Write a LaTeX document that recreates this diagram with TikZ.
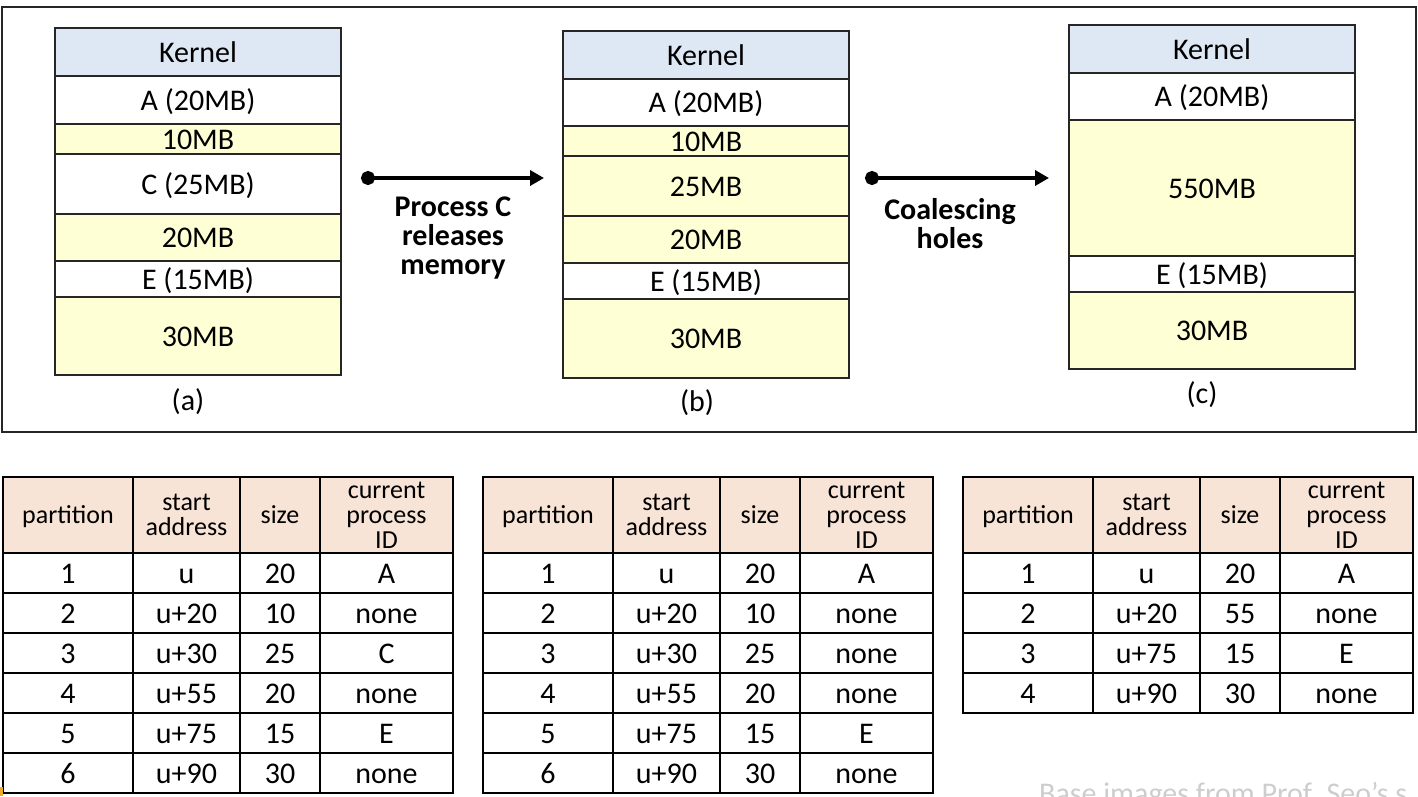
\documentclass[tikz,border=0pt]{standalone}
\usepackage{fontspec}
\setmainfont{Carlito}
\usetikzlibrary{positioning,arrows.meta}
\definecolor{kernblue}{RGB}{222,232,245}
\definecolor{holeyel}{RGB}{255,255,214}
\definecolor{headpeach}{RGB}{247,228,214}
\definecolor{edgegray}{RGB}{38,38,38}
\definecolor{creditgray}{RGB}{205,205,205}
\definecolor{slidemark}{RGB}{237,170,40}

\tikzset{
  blk/.style={draw=edgegray, line width=2pt, minimum width=286pt, inner sep=0pt, outer sep=0pt, text height=21pt, text depth=1pt, font=\fontsize{30}{30}\selectfont},
  kern/.style={blk, fill=kernblue, minimum height=48pt},
  proc/.style={blk, fill=white},
  hole/.style={blk, fill=holeyel},
  sublabel/.style={font=\fontsize{30}{30}\selectfont, inner sep=0pt},
  note/.style={font=\fontsize{30}{29}\selectfont\bfseries, align=center, inner sep=0pt},
  flow/.style={line width=4pt, {Circle[length=14pt]}-{Triangle[length=14pt,width=15pt]}},
  cell/.style={draw, line width=2pt, inner sep=0pt, outer sep=0pt, minimum height=40pt, text height=21pt, text depth=1pt, font=\fontsize{30}{30}\selectfont},
  head/.style={draw, line width=2pt, inner sep=0pt, outer sep=0pt, fill=headpeach, minimum height=76pt, align=center, font=\fontsize{26}{25}\selectfont},
  headone/.style={head, text height=18pt, text depth=2pt},
  c1/.style={minimum width=130pt},
  c2/.style={minimum width=107pt},
  c3/.style={minimum width=80pt},
  c4/.style={minimum width=133pt}
}

\begin{document}
\begin{tikzpicture}[x=1pt,y=-1pt]
    \useasboundingbox (0,0) rectangle (1418,796);
    \draw [edgegray, line width=1.5pt] (2,7) rectangle (1416,432);

    % memory (a)
    \node[kern] (a0) at (198,52) {Kernel};
    \node[proc, minimum height=48pt, below=0pt of a0] (a1) {A (20MB)};
    \node[hole, minimum height=30pt, below=0pt of a1] (a2) {10MB};
    \node[proc, minimum height=60pt, below=0pt of a2] (a3) {C (25MB)};
    \node[hole, minimum height=47pt, below=0pt of a3] (a4) {20MB};
    \node[proc, minimum height=36pt, below=0pt of a4] (a5) {E (15MB)};
    \node[hole, minimum height=78pt, below=0pt of a5] (a6) {30MB};
    \node[sublabel] (alabel) at (188,402) {(a)};

    % memory (b)
    \node[kern] (b0) at (706,55) {Kernel};
    \node[proc, minimum height=47pt, below=0pt of b0] (b1) {A (20MB)};
    \node[hole, minimum height=30pt, below=0pt of b1] (b2) {10MB};
    \node[hole, minimum height=60pt, below=0pt of b2] (b3) {25MB};
    \node[hole, minimum height=47pt, below=0pt of b3] (b4) {20MB};
    \node[proc, minimum height=36pt, below=0pt of b4] (b5) {E (15MB)};
    \node[hole, minimum height=79pt, below=0pt of b5] (b6) {30MB};
    \node[sublabel] (blabel) at (697,403) {(b)};

    % memory (c)
    \node[kern] (c0) at (1212,49) {Kernel};
    \node[proc, minimum height=47pt, below=0pt of c0] (c1) {A (20MB)};
    \node[hole, minimum height=136pt, below=0pt of c1] (c2) {550MB};
    \node[proc, minimum height=36pt, below=0pt of c2] (c3) {E (15MB)};
    \node[hole, minimum height=77pt, below=0pt of c3] (c4) {30MB};
    \node[sublabel] (clabel) at (1202,395) {(c)};

    % steps
    \coordinate (r1from) at (361,178);
    \coordinate (r1to) at (544,178);
    \draw[flow] (r1from) -- (r1to);
    \node[note] (r1text) at (453,238) {Process C\\releases\\memory};
    \coordinate (r2from) at (865,178);
    \coordinate (r2to) at (1049,178);
    \draw[flow] (r2from) -- (r2to);
    \node[note] (r2text) at (950,224) {Coalescing\\holes};

    % table (a)
    \node[headone, c1] (ta-h1) at (68,515) {partition};
    \node[head, c2] (ta-h2) at (186.5,515) {start\\address};
    \node[headone, c3] (ta-h3) at (280,515) {size};
    \node[head, c4] (ta-h4) at (386.5,515) {current\\process\\ID};
    \foreach \r/\s/\z/\c in {1/u/20/A, 2/u+20/10/none, 3/u+30/25/C, 4/u+55/20/none, 5/u+75/15/E, 6/u+90/30/none}
    {
        \node[cell, c1] (ta-\r-1) at (68,533+40*\r) {\r};
        \node[cell, c2] (ta-\r-2) at (186.5,533+40*\r) {\s};
        \node[cell, c3] (ta-\r-3) at (280,533+40*\r) {\z};
        \node[cell, c4] (ta-\r-4) at (386.5,533+40*\r) {\c};
    }

    % table (b)
    \begin{scope}[xshift=480pt]
    \node[headone, c1] (tb-h1) at (68,515) {partition};
    \node[head, c2] (tb-h2) at (186.5,515) {start\\address};
    \node[headone, c3] (tb-h3) at (280,515) {size};
    \node[head, c4] (tb-h4) at (386.5,515) {current\\process\\ID};
    \foreach \r/\s/\z/\c in {1/u/20/A, 2/u+20/10/none, 3/u+30/25/none, 4/u+55/20/none, 5/u+75/15/E, 6/u+90/30/none}
    {
        \node[cell, c1] (tb-\r-1) at (68,533+40*\r) {\r};
        \node[cell, c2] (tb-\r-2) at (186.5,533+40*\r) {\s};
        \node[cell, c3] (tb-\r-3) at (280,533+40*\r) {\z};
        \node[cell, c4] (tb-\r-4) at (386.5,533+40*\r) {\c};
    }
    \end{scope}

    % table (c)
    \begin{scope}[xshift=960pt]
    \node[headone, c1] (tc-h1) at (68,515) {partition};
    \node[head, c2] (tc-h2) at (186.5,515) {start\\address};
    \node[headone, c3] (tc-h3) at (280,515) {size};
    \node[head, c4] (tc-h4) at (386.5,515) {current\\process\\ID};
    \foreach \r/\s/\z/\c in {1/u/20/A, 2/u+20/55/none, 3/u+75/15/E, 4/u+90/30/none}
    {
        \node[cell, c1] (tc-\r-1) at (68,533+40*\r) {\r};
        \node[cell, c2] (tc-\r-2) at (186.5,533+40*\r) {\s};
        \node[cell, c3] (tc-\r-3) at (280,533+40*\r) {\z};
        \node[cell, c4] (tc-\r-4) at (386.5,533+40*\r) {\c};
    }
    \end{scope}

    \node[anchor=base west, text=creditgray, font=\fontsize{30}{30}\selectfont, inner sep=0pt] (credit) at (1039,803) {Base images from Prof. Seo’s s};
    \fill [slidemark] (0,787) rectangle (3,796);
\end{tikzpicture}
\end{document}
